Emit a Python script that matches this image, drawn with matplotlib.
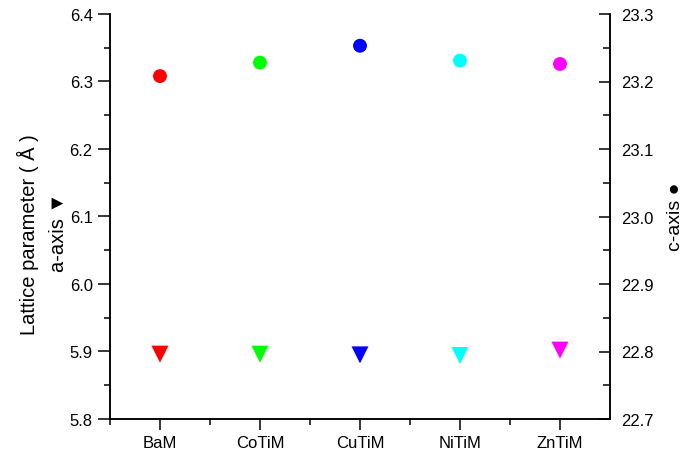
import matplotlib
matplotlib.use("Agg")
import matplotlib.pyplot as plt
from matplotlib.ticker import MultipleLocator, FixedLocator

plt.rcParams["font.family"] = ["Liberation Sans", "DejaVu Sans"]

samples = ["BaM", "CoTiM", "CuTiM", "NiTiM", "ZnTiM"]
a_axis = [5.896, 5.896, 5.895, 5.894, 5.902]
c_axis = [23.208, 23.228, 23.253, 23.231, 23.226]
colors = ["#FF0000", "#00FF00", "#0000FF", "#00FFFF", "#FF00FF"]

fig = plt.figure(figsize=(6.94, 4.52), dpi=100)
ax = fig.add_axes([110 / 694, 32 / 452, 500 / 694, 405 / 452])
ax2 = ax.twinx()

x = list(range(len(samples)))
ax.scatter(x, a_axis, marker="v", s=150, c=colors, edgecolors="none", zorder=3)
ax2.scatter(x, c_axis, marker="o", s=100, c=colors, edgecolors="none", zorder=3)

ax.set_xlim(-0.5, 4.5)
ax.set_ylim(5.8, 6.4)
ax2.set_ylim(22.7, 23.3)
ax.set_xticks(x)
ax.set_xticklabels(samples)
ax.xaxis.set_minor_locator(FixedLocator([-0.5, 0.5, 1.5, 2.5, 3.5]))
ax.yaxis.set_major_locator(MultipleLocator(0.1))
ax.yaxis.set_minor_locator(MultipleLocator(0.05))
ax2.yaxis.set_major_locator(MultipleLocator(0.1))
ax2.yaxis.set_minor_locator(MultipleLocator(0.05))
ax.yaxis.set_major_formatter(lambda v, p: f"{v:.1f}")
ax2.yaxis.set_major_formatter(lambda v, p: f"{v:.1f}")

for a in (ax, ax2):
    a.spines["top"].set_visible(False)
    for s in a.spines.values():
        s.set_linewidth(1.1)
ax.tick_params(axis="both", which="major", labelsize=12, length=8, width=1.1, direction="out")
ax.tick_params(axis="both", which="minor", length=4, width=1.1, direction="out")
ax.tick_params(axis="y", which="major", length=9)
ax2.tick_params(axis="y", which="major", labelsize=12, length=8, width=1.1, direction="in", pad=8)
ax2.tick_params(axis="y", which="minor", length=5, width=1.1, direction="in")

fig.text(28 / 694, 1 - 235 / 452, "Lattice parameter ( Å )", rotation=90,
         ha="center", va="center", fontsize=14.5)
fig.text(58 / 694, 1 - 232 / 452, "a-axis ▼", rotation=90,
         ha="center", va="center", fontsize=14.5)
fig.text(675 / 694, 1 - 217 / 452, "c-axis ●", rotation=90,
         ha="center", va="center", fontsize=14)

fig.savefig("out.png", dpi=100)
